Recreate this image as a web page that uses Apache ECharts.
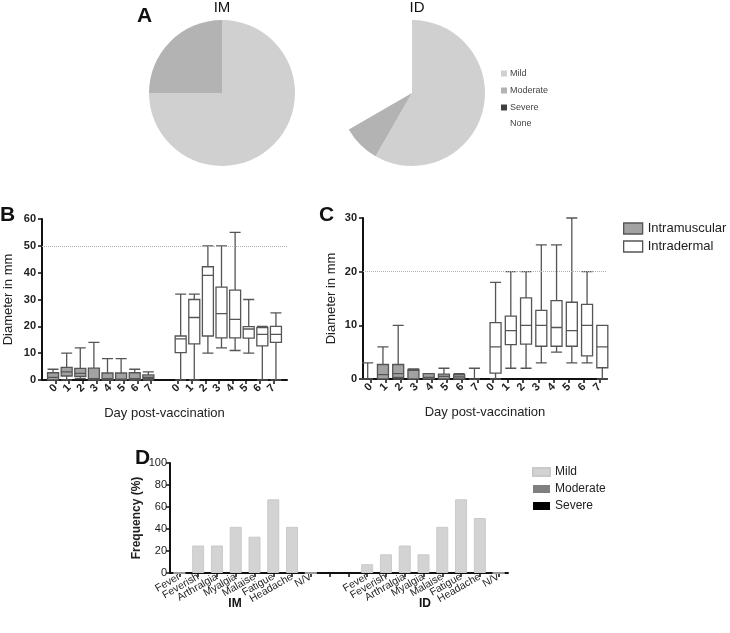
<!DOCTYPE html>
<html>
<head>
<meta charset="utf-8">
<script src="https://cdn.jsdelivr.net/npm/echarts@6/dist/echarts.min.js"></script>
<style>
  html, body { margin: 0; padding: 0; background: #fff; }
  #chart { width: 730px; height: 633px; }
</style>
</head>
<body>
<div id="chart"></div>
<script>
// panel A: number of subjects per severity (n = 12)
const severityNames = ['Mild', 'Moderate', 'Severe', 'None'];
const pieIM = [9, 3, 0, 0];
const pieID = [7, 1, 0, 4];

// panel B/C: box data [min, Q1, median, Q3, max] per day 0..7
const dayLabels = ['0', '1', '2', '3', '4', '5', '6', '7'];
const bIM = [[0, 0, 1, 2.7, 4], [0, 1.5, 3, 4.7, 10], [0.5, 1.3, 2.5, 4.3, 12], [0, 0, 0.5, 4.4, 14],
  [0, 0, 0.5, 2.6, 8], [0, 0, 0.3, 2.6, 8], [0, 0, 0.5, 2.7, 4], [0, 0.5, 1, 1.9, 3]];
const bID = [[0, 10.2, 15.3, 16.4, 32], [0, 13.5, 23.3, 30, 32], [10, 16.4, 39, 42.2, 50], [12, 15.7, 24.7, 34.6, 50],
  [11, 15.7, 22.6, 33.5, 55], [10, 15.6, 19, 19.9, 30], [0, 12.7, 17, 19.5, 20], [0, 14, 17, 20, 25]];
const cIM = [[0, 0, 0, 0, 3], [0, 0, 0.8, 2.7, 6], [0, 0.3, 1, 2.7, 10], [0, 0, 1.6, 1.8, 1.9],
  [0, 0, 0.3, 1, 1], [0, 0, 0.5, 0.9, 2], [0, 0, 0.4, 0.8, 1], [0, 0, 0, 0, 2]];
const cID = [[0, 1.1, 6, 10.5, 18], [2, 6.4, 9, 11.7, 20], [2, 6.5, 10, 15.1, 20], [3, 6.1, 10, 12.8, 25],
  [5, 6.1, 9.6, 14.6, 25], [3, 6.1, 9, 14.3, 30], [3, 4.3, 10, 13.9, 20], [0, 2.1, 6, 10, 10]];
const bLimit = 50;
const cLimit = 20;

// panel D: frequency (%) of mild systemic symptoms
const symptoms = ['Fever', 'Feverish', 'Arthralgia', 'Myalgia', 'Malaise', 'Fatigue', 'Headache', 'N/V'];
const mildIM = [0, 25, 25, 42, 33, 67, 42, 0];
const mildID = [8, 17, 25, 17, 42, 67, 50, 0];

const FONT = 'Liberation Sans';
const pieColors = { Mild: '#d0d0d0', Moderate: '#b3b3b3', Severe: '#404040', None: 'rgba(0,0,0,0)' };

function pieData(vals) {
  // trailing space keeps the pie legend separate from panel D legend
  return vals.map((v, i) => ({
    name: severityNames[i] + ' ',
    value: v,
    itemStyle: { color: pieColors[severityNames[i]] }
  }));
}

const none8 = dayLabels.map(() => '-');
const bCats = [''].concat(dayLabels, [''], dayLabels, ['']);
const bIMData = ['-'].concat(bIM, ['-'], none8, ['-']);
const bIDData = ['-'].concat(none8, ['-'], bID, ['-']);
const cCats = dayLabels.concat(dayLabels);
const cIMData = cIM.concat(none8);
const cIDData = none8.concat(cID);
const dCats = symptoms.concat(['', ''], symptoms);
const dMild = mildIM.concat(['-', '-'], mildID);

const boldTick = { fontFamily: FONT, fontSize: 11, fontWeight: 'bold', color: '#222' };
const axisLine = { show: true, lineStyle: { color: '#111', width: 2 } };

const imStyle = { color: '#a2a2a2', borderColor: '#555', borderWidth: 1.3 };
const idStyle = { color: '#fff', borderColor: '#555', borderWidth: 1.3 };

function limitLine(v) {
  return {
    silent: true, symbol: 'none', label: { show: false },
    lineStyle: { color: '#b0b0b0', type: 'dotted', width: 1 },
    data: [{ yAxis: v }]
  };
}

function txt(text, left, top, size, weight, align) {
  return {
    text: text, left: left, top: top, padding: 0, textAlign: align || 'left',
    textStyle: { fontSize: size, fontWeight: weight, color: '#111', fontFamily: FONT }
  };
}

var myChart = echarts.init(document.getElementById('chart'), null, { renderer: 'canvas' });

var option = {
  animation: false,
  backgroundColor: '#fff',
  textStyle: { fontFamily: FONT },
  title: [
    txt('A', 137, 6, 21, 'bold'),
    txt('IM', 222, 0, 15, 'normal', 'center'),
    txt('ID', 417, 0, 15, 'normal', 'center'),
    { text: 'None', left: 510, top: 119, padding: 0, textStyle: { fontSize: 9, fontWeight: 'normal', color: '#444', fontFamily: FONT } },
    txt('B', 0, 205, 21, 'bold'),
    txt('C', 319, 205, 21, 'bold'),
    txt('D', 135, 448, 21, 'bold'),
    txt('IM', 235, 598, 12, 'bold', 'center'),
    txt('ID', 425, 598, 12, 'bold', 'center')
  ],
  legend: [
    {
      left: 501, top: 69, padding: 0, orient: 'vertical', icon: 'rect',
      itemWidth: 6, itemHeight: 6, itemGap: 8,
      data: ['Mild ', 'Moderate ', 'Severe '],
      formatter: name => name.trim(),
      textStyle: { fontSize: 9, color: '#444', fontFamily: FONT, padding: [0, 0, 0, -2] },
      selectedMode: false
    },
    {
      left: 623, top: 222, padding: 0, orient: 'vertical', icon: 'rect',
      itemWidth: 19, itemHeight: 11, itemGap: 5,
      data: [
        { name: 'Intramuscular', itemStyle: imStyle },
        { name: 'Intradermal', itemStyle: idStyle }
      ],
      textStyle: { fontSize: 13, color: '#222', fontFamily: FONT },
      selectedMode: false
    },
    {
      left: 532, top: 466, padding: 0, orient: 'vertical', icon: 'rect',
      itemWidth: 17, itemHeight: 8, itemGap: 5,
      data: ['Mild', 'Moderate', 'Severe'],
      textStyle: { fontSize: 12, color: '#222', fontFamily: FONT },
      selectedMode: false
    }
  ],
  grid: [
    { left: 42, right: 443, top: 219, bottom: 253 },
    { left: 363, right: 123, top: 218, bottom: 254 },
    { left: 170, right: 222, top: 463, bottom: 60 }
  ],
  xAxis: [
    {
      type: 'category', gridIndex: 0, data: bCats, boundaryGap: false,
      axisLine: axisLine,
      axisTick: { show: true, length: 4, lineStyle: { color: '#111', width: 1.5 }, interval: (i, v) => v !== '' },
      axisLabel: Object.assign({ rotate: 45, margin: 6, interval: 0 }, boldTick),
      name: 'Day post-vaccination', nameLocation: 'middle', nameGap: 27,
      nameTextStyle: { fontSize: 13, color: '#222', fontFamily: FONT }
    },
    {
      type: 'category', gridIndex: 1, data: cCats,
      axisLine: axisLine,
      axisTick: { show: true, length: 4, alignWithLabel: true, lineStyle: { color: '#111', width: 1.5 } },
      axisLabel: Object.assign({ rotate: 45, margin: 6, interval: 0 }, boldTick),
      name: 'Day post-vaccination', nameLocation: 'middle', nameGap: 27,
      nameTextStyle: { fontSize: 13, color: '#222', fontFamily: FONT }
    },
    {
      type: 'category', gridIndex: 2, data: dCats,
      axisLine: axisLine,
      axisTick: { show: true, length: 4, alignWithLabel: true, lineStyle: { color: '#111', width: 1.5 } },
      axisLabel: { rotate: 30, margin: 3, interval: 0, fontFamily: FONT, fontSize: 10.5, color: '#222' }
    }
  ],
  yAxis: [
    {
      type: 'value', gridIndex: 0, min: 0, max: 60, interval: 10,
      axisLine: axisLine, splitLine: { show: false },
      axisTick: { show: true, length: 4, lineStyle: { color: '#111', width: 1.5 } },
      axisLabel: Object.assign({ margin: 6 }, boldTick),
      name: 'Diameter in mm', nameLocation: 'middle', nameGap: 27,
      nameTextStyle: { fontSize: 13, color: '#222', fontFamily: FONT }
    },
    {
      type: 'value', gridIndex: 1, min: 0, max: 30, interval: 10,
      axisLine: axisLine, splitLine: { show: false },
      axisTick: { show: true, length: 4, lineStyle: { color: '#111', width: 1.5 } },
      axisLabel: Object.assign({ margin: 6 }, boldTick),
      name: 'Diameter in mm', nameLocation: 'middle', nameGap: 25,
      nameTextStyle: { fontSize: 13, color: '#222', fontFamily: FONT }
    },
    {
      type: 'value', gridIndex: 2, min: 0, max: 100, interval: 20,
      axisLine: axisLine, splitLine: { show: false },
      axisTick: { show: true, length: 4, lineStyle: { color: '#111', width: 1.5 } },
      axisLabel: { margin: 3, fontFamily: FONT, fontSize: 11, color: '#222' },
      name: 'Frequency (%)', nameLocation: 'middle', nameGap: 27,
      nameTextStyle: { fontSize: 12, fontWeight: 'bold', color: '#222', fontFamily: FONT }
    }
  ],
  series: [
    {
      type: 'pie', center: [222, 93], radius: 73, startAngle: 90, clockwise: true,
      silent: true, label: { show: false }, labelLine: { show: false },
      data: pieData(pieIM)
    },
    {
      type: 'pie', center: [412, 93], radius: 73, startAngle: 90, clockwise: true,
      silent: true, label: { show: false }, labelLine: { show: false },
      data: pieData(pieID)
    },
    {
      name: 'Intramuscular', type: 'boxplot', xAxisIndex: 0, yAxisIndex: 0,
      boxWidth: [11, 11], itemStyle: imStyle, silent: true,
      data: bIMData
    },
    {
      name: 'Intradermal', type: 'boxplot', xAxisIndex: 0, yAxisIndex: 0,
      boxWidth: [11, 11], itemStyle: idStyle, silent: true,
      data: bIDData, markLine: limitLine(bLimit)
    },
    {
      name: 'Intramuscular', type: 'boxplot', xAxisIndex: 1, yAxisIndex: 1,
      boxWidth: [11, 11], itemStyle: imStyle, silent: true,
      data: cIMData
    },
    {
      name: 'Intradermal', type: 'boxplot', xAxisIndex: 1, yAxisIndex: 1,
      boxWidth: [11, 11], itemStyle: idStyle, silent: true,
      data: cIDData, markLine: limitLine(cLimit)
    },
    {
      name: 'Mild', type: 'bar', xAxisIndex: 2, yAxisIndex: 2, stack: 'sev',
      barWidth: 12, silent: true,
      itemStyle: { color: '#d3d3d3', borderColor: '#cacaca', borderWidth: 1 },
      data: dMild
    },
    {
      name: 'Moderate', type: 'bar', xAxisIndex: 2, yAxisIndex: 2, stack: 'sev',
      barWidth: 12, silent: true, itemStyle: { color: '#808080' },
      data: dCats.map(() => '-')
    },
    {
      name: 'Severe', type: 'bar', xAxisIndex: 2, yAxisIndex: 2, stack: 'sev',
      barWidth: 12, silent: true, itemStyle: { color: '#000' },
      data: dCats.map(() => '-')
    }
  ]
};
myChart.setOption(option);
</script>
</body>
</html>
